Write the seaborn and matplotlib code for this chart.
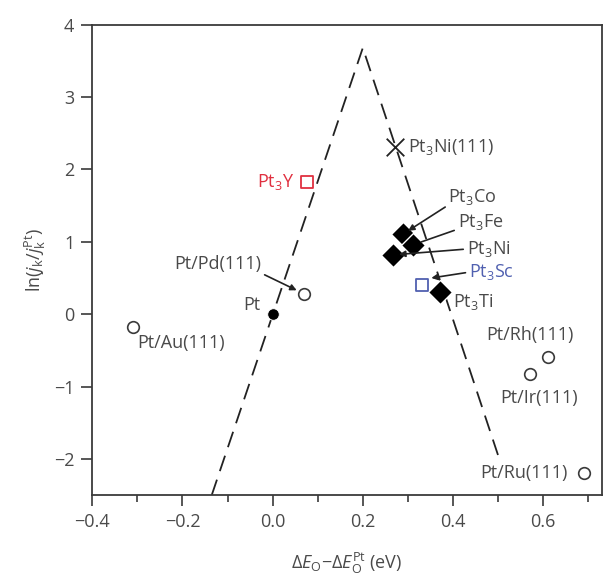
import matplotlib
matplotlib.use('Agg')
import matplotlib.pyplot as plt
import pandas as pd
import seaborn as sns

sns.set_style('ticks')
plt.rcParams['font.family'] = ['Open Sans', 'DejaVu Sans']
plt.rcParams['mathtext.fontset'] = 'custom'
plt.rcParams['mathtext.rm'] = 'Open Sans'
plt.rcParams['mathtext.it'] = 'Open Sans:italic'
plt.rcParams['mathtext.default'] = 'regular'

ink = '#3a3a3a'
txt = '#4a4a4a'

# volcano (dashed guide)
volcano_x = [-0.135, 0.2, 0.5]
volcano_y = [-2.5, 3.68, -1.95]

# pure Pt
pt_x = [0.0]
pt_y = [0.0]

# Pt monolayers on single crystals (open circles)
ml_names = ['Pt/Pd(111)', 'Pt/Au(111)', 'Pt/Rh(111)', 'Pt/Ir(111)', 'Pt/Ru(111)']
ml_x = [0.07, -0.31, 0.61, 0.57, 0.69]
ml_y = [0.28, -0.18, -0.59, -0.83, -2.2]

# polycrystalline alloys (filled diamonds)
alloy_names = ['Pt$_3$Co', 'Pt$_3$Fe', 'Pt$_3$Ni', 'Pt$_3$Ti']
alloy_x = [0.29, 0.312, 0.268, 0.372]
alloy_y = [1.11, 0.96, 0.82, 0.3]

# new alloys (open squares)
new_names = ['Pt$_3$Y', 'Pt$_3$Sc']
new_x = [0.077, 0.332]
new_y = [1.82, 0.40]
new_colors = ['#e03040', '#5060b0']

# Pt3Ni(111) single crystal
ni111_x = [0.272]
ni111_y = [2.31]

fig = plt.figure(figsize=(6.03, 5.75), dpi=100)
ax = fig.add_axes([0.153, 0.139, 0.845, 0.818])

sns.lineplot(x=volcano_x, y=volcano_y, ax=ax, color='#222222', lw=1.3,
             sort=False, estimator=None)
ax.lines[-1].set_linestyle((0, (9, 5)))

sns.scatterplot(x=pt_x, y=pt_y, ax=ax, color='black', s=70, marker='o', zorder=3)
sns.scatterplot(x=ml_x, y=ml_y, ax=ax, facecolor='white', edgecolor=ink, s=70,
                marker='o', linewidth=1.2, zorder=3)
sns.scatterplot(x=alloy_x, y=alloy_y, ax=ax, color='black', s=150, marker='D', zorder=3)
for xx, yy, cc in zip(new_x, new_y, new_colors):
    sns.scatterplot(x=[xx], y=[yy], ax=ax, facecolor='white', edgecolor=cc, s=80,
                    marker='s', linewidth=1.3, zorder=3)
sns.scatterplot(x=ni111_x, y=ni111_y, ax=ax, color='#222222', s=160, marker='x',
                linewidth=1.3, zorder=3)

fs = 13
arrow = dict(arrowstyle='-|>', color='#222222', lw=1.2, mutation_scale=9, shrinkA=0, shrinkB=4)

# labels
ax.annotate('Pt/Pd(111)', xy=(ml_x[0], ml_y[0]), xytext=(-0.025, 0.69),
            ha='right', va='center', fontsize=fs, color=txt,
            arrowprops=dict(arrowstyle='-|>', color='#222222', lw=1.2, mutation_scale=9,
                            shrinkA=0, shrinkB=6, relpos=(1, 0)))
ax.text(-0.027, 0.12, 'Pt', ha='right', va='center', fontsize=fs, color=txt)
ax.text(-0.30, -0.40, ml_names[1], ha='left', va='center', fontsize=fs, color=txt)
ax.text(0.57, -0.29, ml_names[2], ha='center', va='center', fontsize=fs, color=txt)
ax.text(0.59, -1.16, ml_names[3], ha='center', va='center', fontsize=fs, color=txt)
ax.text(0.655, -2.2, ml_names[4], ha='right', va='center', fontsize=fs, color=txt)

ax.text(0.048, 1.83, new_names[0], ha='right', va='center', fontsize=fs, color=new_colors[0])
ax.text(0.30, 2.31, 'Pt$_3$Ni(111)', ha='left', va='center', fontsize=fs, color=txt)

ax.annotate(alloy_names[0], xy=(alloy_x[0], alloy_y[0]), xytext=(0.39, 1.62),
            ha='left', va='center', fontsize=fs, color=txt,
            arrowprops=dict(arrow, relpos=(0, 0.1)))
ax.annotate(alloy_names[1], xy=(alloy_x[1], alloy_y[1]), xytext=(0.41, 1.27),
            ha='left', va='center', fontsize=fs, color=txt,
            arrowprops=dict(arrowstyle='-', color='#222222', lw=1.2, shrinkA=0, shrinkB=6,
                            relpos=(0, 0.15)))
ax.annotate(alloy_names[2], xy=(alloy_x[2], alloy_y[2]), xytext=(0.43, 0.90),
            ha='left', va='center', fontsize=fs, color=txt,
            arrowprops=dict(arrow, relpos=(0, 0.5)))
ax.annotate(new_names[1], xy=(0.352, 0.50), xytext=(0.435, 0.58),
            ha='left', va='center', fontsize=fs, color=new_colors[1],
            arrowprops=dict(arrow, shrinkB=0, relpos=(0, 0.5)))
ax.text(0.40, 0.17, alloy_names[3], ha='left', va='center', fontsize=fs, color=txt)

ax.set_xlim(-0.4, 0.73)
ax.set_ylim(-2.5, 4)
ax.set_xticks([-0.4, -0.2, 0.0, 0.2, 0.4, 0.6])
ax.set_xticklabels(['\u22120.4', '\u22120.2', '0.0', '0.2', '0.4', '0.6'])
ax.set_xticks([-0.3, -0.1, 0.1, 0.3, 0.5, 0.7], minor=True)
ax.set_yticks([-2, -1, 0, 1, 2, 3, 4])
ax.set_yticklabels(['\u22122', '\u22121', '0', '1', '2', '3', '4'])
ax.tick_params(axis='both', which='major', direction='out', length=8, width=1.2,
               labelsize=fs, colors=ink, labelcolor=txt, pad=5)
ax.tick_params(axis='x', which='minor', direction='out', length=5, width=1.2, colors=ink)
for sp in ax.spines.values():
    sp.set_color(ink)
    sp.set_linewidth(1.3)

ax.set_xlabel('$\\Delta\\mathit{E}_\\mathrm{O}$\u2212$\\Delta\\mathit{E}_\\mathrm{O}^\\mathrm{Pt}$ (eV)',
              fontsize=fs, color=txt, labelpad=14)
ax.set_ylabel('ln($\\mathit{j}_\\mathrm{k}$/$\\mathit{j}_\\mathrm{k}^\\mathrm{Pt}$)',
              fontsize=fs, color=txt, labelpad=4)

fig.savefig('out.png', dpi=100)
